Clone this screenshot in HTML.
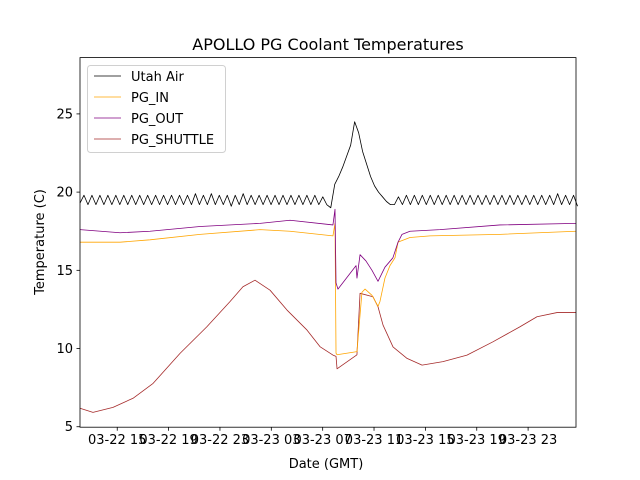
<!DOCTYPE html>
<html><head><meta charset="utf-8"><style>
body{margin:0;background:#fff;}
svg{display:block;font-family:"DejaVu Sans","Liberation Sans",sans-serif;}
</style></head><body>
<svg id="chart" width="640" height="480" viewBox="0 0 640 480">
<rect width="640" height="480" fill="#fff"/>
<text x="328" y="50" font-size="16" text-anchor="middle">APOLLO PG Coolant Temperatures</text>
<g id="plot"></g>
<g id="axes"></g>
<text x="326" y="468" font-size="13" text-anchor="middle">Date (GMT)</text>
<text x="0" y="0" font-size="13" text-anchor="middle" transform="translate(44,242) rotate(-90)">Temperature (C)</text>
<g>
<rect x="87.5" y="65.5" width="138" height="87" rx="3" fill="#fff" stroke="#ccc" opacity="0.9"/>
<line x1="94" y1="76" x2="121" y2="76" stroke="#000" stroke-width="0.8"/>
<text x="131" y="81" font-size="13">Utah Air</text>
<line x1="94" y1="97" x2="121" y2="97" stroke="#ffa500" stroke-width="0.8"/>
<text x="131" y="102" font-size="13">PG_IN</text>
<line x1="94" y1="118" x2="121" y2="118" stroke="#800080" stroke-width="0.8"/>
<text x="131" y="123" font-size="13">PG_OUT</text>
<line x1="94" y1="139" x2="121" y2="139" stroke="#a52a2a" stroke-width="0.8"/>
<text x="131" y="144" font-size="13">PG_SHUTTLE</text>
</g>
</svg>
<script>
// time in hours since 03-22 00:00 GMT
const xTickValues = [15,19,23,27,31,35,39,43,47];
const xTickLabels = ["03-22 15","03-22 19","03-22 23","03-23 03","03-23 07","03-23 11","03-23 15","03-23 19","03-23 23"];
const yTickValues = [5,10,15,20,25];
const airStart = 12.1;
const airStep = 0.31;
const airV = [19.3,19.8,19.2,19.8,19.2,19.8,19.2,19.8,19.2,19.8,19.2,19.8,19.2,19.8,19.2,19.8,19.2,19.8,19.2,19.8,
19.2,19.8,19.2,19.8,19.2,19.8,19.2,19.8,19.2,19.9,19.2,19.8,19.2,19.9,19.2,19.8,19.2,19.8,19.1,19.8,
19.2,19.9,19.2,19.8,19.2,19.8,19.2,19.8,19.2,19.8,19.2,19.8,19.2,19.8,19.2,19.8,19.2,19.8,19.2,19.8,
19.2,19.7,19.2,19.0,20.5,21.0,21.6,22.3,23.0,24.5,23.8,22.6,21.8,21.0,20.4,20.0,19.7,19.4,19.2,19.2,
19.7,19.2,19.8,19.2,19.8,19.2,19.8,19.2,19.8,19.2,19.8,19.2,19.8,19.2,19.8,19.2,19.8,19.2,19.8,19.2,
19.8,19.2,19.8,19.2,19.8,19.2,19.8,19.2,19.8,19.2,19.8,19.2,19.8,19.2,19.8,19.2,19.8,19.2,19.8,19.2,
19.9,19.2,19.8,19.2,19.8,19.1];
const inT = [12.1,15.22,17.55,21.45,26.12,28.46,31.8,31.96,32.04,32.12,33.67,34.06,34.3,34.84,35.31,35.46,35.85,36.24,36.63,36.87,37.8,39.36,44.81,50.73];
const inV = [16.8,16.8,16.95,17.3,17.6,17.5,17.2,18.0,9.7,9.6,9.8,13.6,13.8,13.4,12.7,13.0,14.5,15.3,15.8,16.8,17.1,17.2,17.3,17.5];
const outT = [12.1,15.22,17.55,21.45,26.12,28.46,31.8,31.96,32.04,32.19,33.6,33.67,33.91,34.37,34.84,35.31,35.85,36.47,36.87,37.18,37.8,40.14,44.81,50.73];
const outV = [17.6,17.4,17.5,17.8,18.0,18.2,17.9,18.9,14.2,13.8,15.3,14.5,16.0,15.6,15.0,14.3,15.2,15.8,16.8,17.3,17.5,17.6,17.9,18.0];
const shT = [12.1,13.11,14.67,16.23,17.79,19.89,21.99,23.78,24.79,25.73,26.9,28.22,29.78,30.79,31.8,32.04,32.12,33.67,33.91,34.92,35.31,35.7,36.48,37.57,38.74,40.37,42.24,44.26,46.37,47.69,49.25,50.73];
const shV = [6.18,5.92,6.24,6.82,7.77,9.69,11.4,13.0,13.95,14.37,13.73,12.46,11.18,10.12,9.58,9.5,8.7,9.6,13.53,13.31,12.67,11.5,10.1,9.37,8.94,9.16,9.58,10.43,11.39,12.03,12.3,12.3];

const L=80,R=576,T=57.6,B=427.2,xmin=12.1,xmax=50.73,ymin=4.97,ymax=28.6;
const sx=v=>L+(v-xmin)/(xmax-xmin)*(R-L);
const sy=v=>B-(v-ymin)/(ymax-ymin)*(B-T);
const NS="http://www.w3.org/2000/svg";
const plot=document.getElementById('plot'), axes=document.getElementById('axes');
function line(ts,vs,color,name){
  const p=document.createElementNS(NS,'path');
  p.setAttribute('d',ts.map((t,i)=>(i?'L':'M')+sx(t).toFixed(2)+','+sy(vs[i]).toFixed(2)).join(''));
  p.setAttribute('fill','none');p.setAttribute('stroke',color);p.setAttribute('stroke-width','0.8');
  p.setAttribute('stroke-linejoin','round');
  
  
  plot.appendChild(p);
}
const airT=airV.map((v,i)=>airStart+i*airStep);
line(shT,shV,'#a52a2a','pg-shuttle-line');
line(inT,inV,'#ffa500','pg-in-line');
line(outT,outV,'#800080','pg-out-line');
line(airT,airV,'#000','utah-air-line');
const frame=document.createElementNS(NS,'rect');
frame.setAttribute('x',L);frame.setAttribute('y',T);frame.setAttribute('width',R-L);frame.setAttribute('height',B-T);
frame.setAttribute('fill','none');frame.setAttribute('stroke','#000');frame.setAttribute('stroke-width','0.8');


axes.appendChild(frame);
xTickValues.forEach((v,i)=>{
  const x=sx(v);
  const t=document.createElementNS(NS,'line');
  t.setAttribute('x1',x);t.setAttribute('x2',x);t.setAttribute('y1',B);t.setAttribute('y2',B+3.5);t.setAttribute('stroke','#000');t.setAttribute('stroke-width','0.8');
  
  
  axes.appendChild(t);
  const s=document.createElementNS(NS,'text');
  s.setAttribute('x',x);s.setAttribute('y',B+17);s.setAttribute('font-size','13');s.setAttribute('text-anchor','middle');
  s.textContent=xTickLabels[i];
  
  
  axes.appendChild(s);
});
yTickValues.forEach(v=>{
  const y=sy(v);
  const t=document.createElementNS(NS,'line');
  t.setAttribute('x1',L-3.5);t.setAttribute('x2',L);t.setAttribute('y1',y);t.setAttribute('y2',y);t.setAttribute('stroke','#000');t.setAttribute('stroke-width','0.8');
  
  
  axes.appendChild(t);
  const s=document.createElementNS(NS,'text');
  s.setAttribute('x',L-7);s.setAttribute('y',y+4.5);s.setAttribute('font-size','13');s.setAttribute('text-anchor','end');
  s.textContent=v;
  
  
  axes.appendChild(s);
});
</script>
</body></html>
